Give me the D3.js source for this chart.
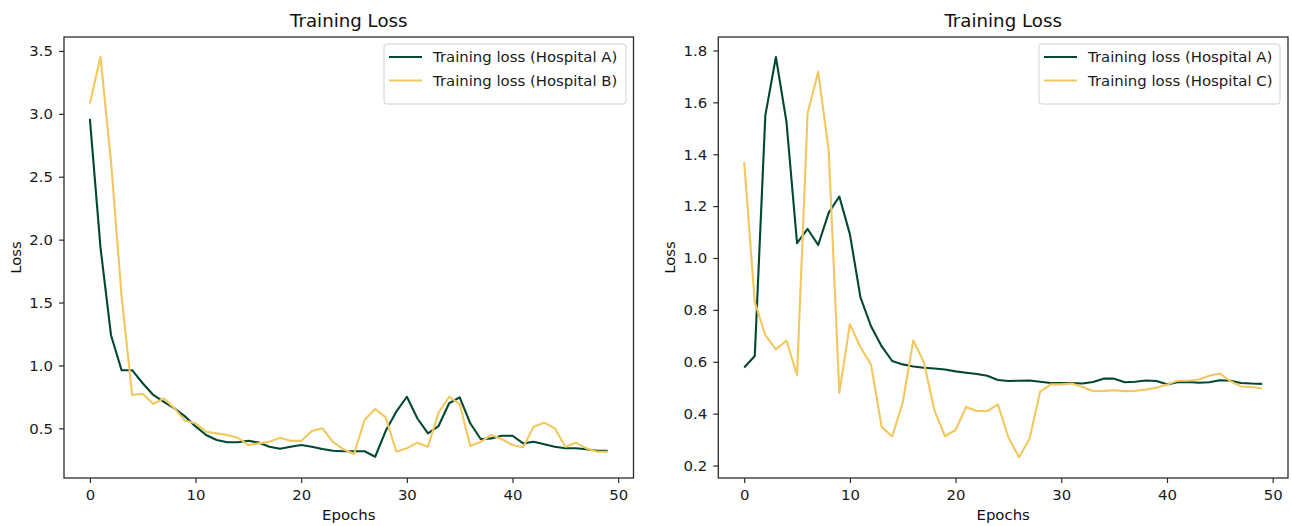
<!DOCTYPE html>
<html>
<head>
<meta charset="utf-8">
<script src="https://cdn.jsdelivr.net/npm/d3@7"></script>
<style>
  html, body { margin: 0; padding: 0; background: #fff; }
  svg { display: block; font-family: "DejaVu Sans", sans-serif; }
</style>
</head>
<body>
<svg id="chart" width="1292" height="526"></svg>
<script>
// ---------- data ----------
const epochs = d3.range(0, 50);

const lossHospitalA_left = [2.96, 1.94, 1.24, 0.962, 0.962, 0.858, 0.765, 0.711, 0.659, 0.595,
  0.515, 0.447, 0.407, 0.389, 0.389, 0.401, 0.386, 0.354, 0.337, 0.354,
  0.367, 0.354, 0.335, 0.322, 0.318, 0.318, 0.318, 0.274, 0.48, 0.632,
  0.751, 0.578, 0.46, 0.518, 0.699, 0.746, 0.54, 0.413, 0.42, 0.441,
  0.441, 0.38, 0.393, 0.373, 0.354, 0.341, 0.341, 0.333, 0.322, 0.322];

const lossHospitalB = [3.083, 3.454, 2.62, 1.55, 0.765, 0.775, 0.693, 0.738, 0.659, 0.56,
  0.54, 0.473, 0.46, 0.447, 0.425, 0.367, 0.38, 0.393, 0.425, 0.40,
  0.40, 0.479, 0.50, 0.393, 0.333, 0.296, 0.566, 0.653, 0.587, 0.314,
  0.341, 0.386, 0.354, 0.624, 0.751, 0.693, 0.359, 0.393, 0.447, 0.413,
  0.367, 0.349, 0.513, 0.545, 0.50, 0.354, 0.386, 0.341, 0.314, 0.314];

const lossHospitalA_right = [0.578, 0.622, 1.55, 1.775, 1.525, 1.057, 1.112, 1.05, 1.175, 1.237,
  1.092, 0.848, 0.737, 0.66, 0.603, 0.59, 0.582, 0.577, 0.574, 0.57,
  0.563, 0.558, 0.553, 0.546, 0.53, 0.526, 0.527, 0.528, 0.523, 0.518,
  0.518, 0.518, 0.516, 0.522, 0.535, 0.535, 0.521, 0.523, 0.528, 0.526,
  0.513, 0.521, 0.522, 0.519, 0.521, 0.529, 0.527, 0.518, 0.516, 0.515];

const lossHospitalC = [1.37, 0.83, 0.703, 0.648, 0.682, 0.548, 1.558, 1.718, 1.412, 0.48,
  0.745, 0.656, 0.59, 0.35, 0.312, 0.443, 0.682, 0.598, 0.413, 0.313,
  0.337, 0.426, 0.41, 0.41, 0.436, 0.308, 0.232, 0.303, 0.485, 0.513,
  0.513, 0.516, 0.503, 0.487, 0.488, 0.49, 0.487, 0.488, 0.493, 0.5,
  0.512, 0.527, 0.527, 0.532, 0.546, 0.555, 0.525, 0.505, 0.503, 0.497];

const xTicks = [0, 10, 20, 30, 40, 50];
const yTicksLeft = [0.5, 1.0, 1.5, 2.0, 2.5, 3.0, 3.5];
const yTicksRight = [0.2, 0.4, 0.6, 0.8, 1.0, 1.2, 1.4, 1.6, 1.8];

const titleText = "Training Loss";
const xLabelText = "Epochs";
const yLabelText = "Loss";

const panels = [
  {
    left: 64, right: 633.5, yDomain: [0.105, 3.611], yTicks: yTicksLeft,
    series: [
      { name: "Training loss (Hospital A)", values: lossHospitalA_left, color: "#00482f" },
      { name: "Training loss (Hospital B)", values: lossHospitalB, color: "#f2c85e" }
    ],
    legendX: 384, legendW: 242, yLabelX: 20.5
  },
  {
    left: 718.3, right: 1288, yDomain: [0.152, 1.852], yTicks: yTicksRight,
    series: [
      { name: "Training loss (Hospital A)", values: lossHospitalA_right, color: "#00482f" },
      { name: "Training loss (Hospital C)", values: lossHospitalC, color: "#f2c85e" }
    ],
    legendX: 1039, legendW: 241, yLabelX: 675
  }
];

const plotTop = 37, plotBottom = 478;
const fs = 14.9;
const svg = d3.select("#chart");

panels.forEach(p => {
  const x = d3.scaleLinear().domain([-2.45, 51.45]).range([p.left, p.right]);
  const y = d3.scaleLinear().domain(p.yDomain).range([plotBottom, plotTop]);
  const g = svg.append("g");

  // lines
  const line = d3.line().x((d, i) => x(epochs[i])).y(d => y(d));
  p.series.forEach(s => {
    g.append("path")
      .datum(s.values)
      .attr("d", line)
      .attr("fill", "none")
      .attr("stroke", s.color)
      .attr("stroke-width", 2.1)
      .attr("stroke-linejoin", "round")
      .attr("stroke-linecap", "butt");
  });

  // axes
  const xAxis = g.append("g")
    .attr("transform", `translate(0,${plotBottom})`)
    .call(d3.axisBottom(x).tickValues(xTicks).tickFormat(d3.format("d")).tickSize(5).tickPadding(6));
  const yAxis = g.append("g")
    .attr("transform", `translate(${p.left},0)`)
    .call(d3.axisLeft(y).tickValues(p.yTicks).tickFormat(d3.format(".1f")).tickSize(5).tickPadding(6));
  [xAxis, yAxis].forEach(a => {
    a.select(".domain").remove();
    a.selectAll(".tick line").attr("stroke", "#2b2b2b").attr("stroke-width", 1.2);
    a.selectAll(".tick text").attr("fill", "#1a1a1a")
      .style("font-family", "DejaVu Sans").style("font-size", fs + "px");
  });

  // frame
  g.append("rect")
    .attr("x", p.left).attr("y", plotTop)
    .attr("width", p.right - p.left).attr("height", plotBottom - plotTop)
    .attr("fill", "none").attr("stroke", "#2b2b2b").attr("stroke-width", 1.3);

  // title & labels
  const cx = (p.left + p.right) / 2;
  g.append("text").attr("x", cx).attr("y", 27)
    .attr("text-anchor", "middle").attr("fill", "#111")
    .style("font-size", "18.2px").text(titleText);
  g.append("text").attr("x", cx).attr("y", 520)
    .attr("text-anchor", "middle").attr("fill", "#111")
    .style("font-size", fs + "px").text(xLabelText);
  g.append("text")
    .attr("transform", `translate(${p.yLabelX},${(plotTop + plotBottom) / 2}) rotate(-90)`)
    .attr("text-anchor", "middle").attr("fill", "#111")
    .style("font-size", fs + "px").text(yLabelText);

  // legend
  const lg = g.append("g");
  lg.append("rect")
    .attr("x", p.legendX).attr("y", 44)
    .attr("width", p.legendW).attr("height", 60)
    .attr("rx", 3).attr("fill", "#fff").attr("fill-opacity", 0.8)
    .attr("stroke", "#d2d2d2").attr("stroke-width", 1);
  p.series.forEach((s, i) => {
    const yy = 57 + i * 23.5;
    lg.append("line")
      .attr("x1", p.legendX + 5).attr("x2", p.legendX + 38)
      .attr("y1", yy).attr("y2", yy)
      .attr("stroke", s.color).attr("stroke-width", 2.1);
    lg.append("text")
      .attr("x", p.legendX + 49).attr("y", yy + 5.4)
      .attr("fill", "#1a1a1a")
      .style("font-size", fs + "px").text(s.name);
  });
});
</script>
</body>
</html>
